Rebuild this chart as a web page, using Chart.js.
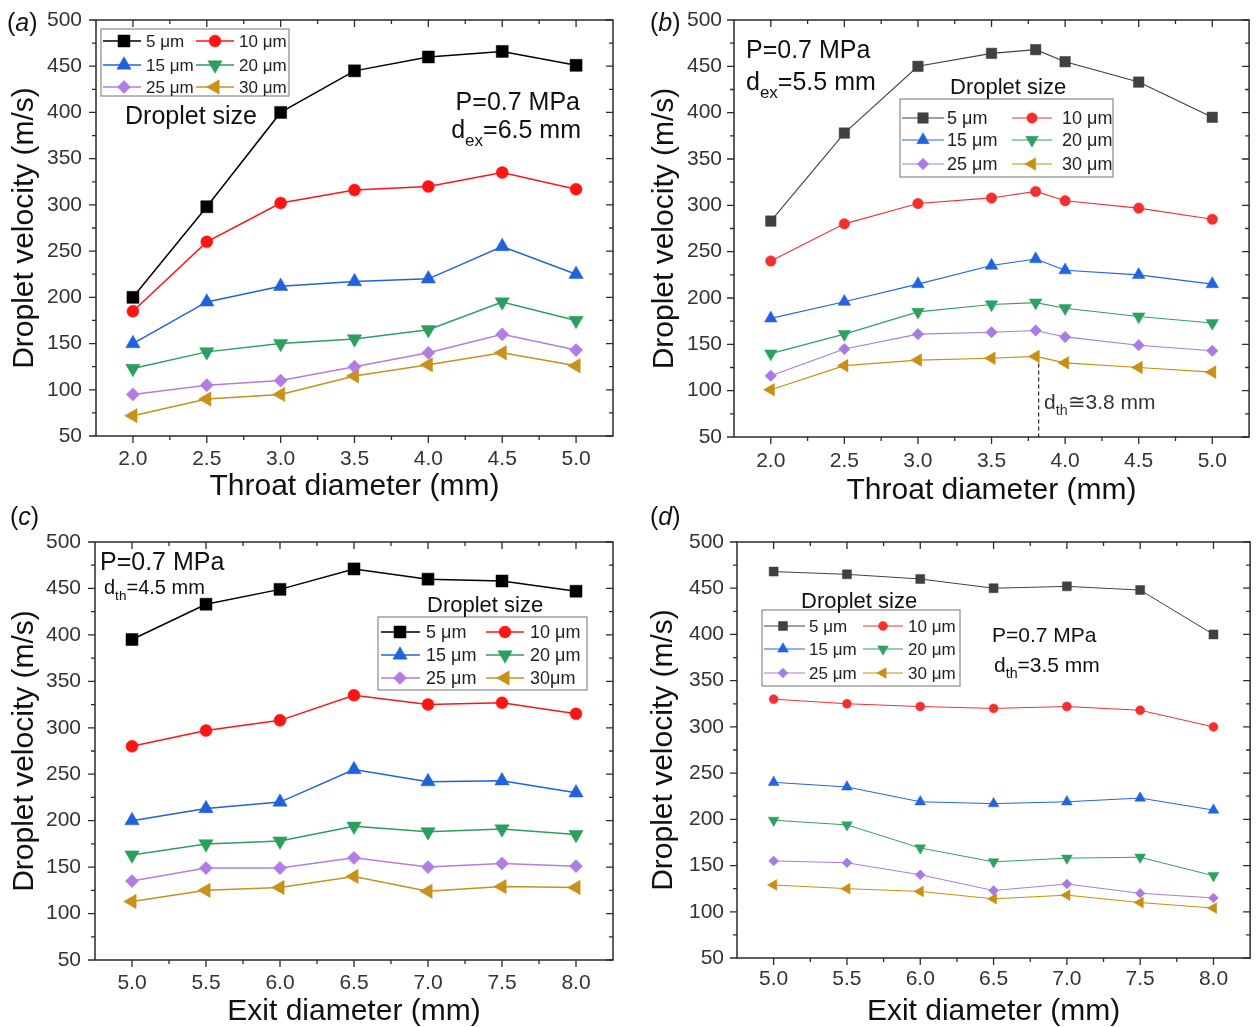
<!DOCTYPE html>
<html><head><meta charset="utf-8"><title>Droplet velocity</title>
<script src="https://cdn.jsdelivr.net/npm/chart.js@4.4.1/dist/chart.umd.min.js"></script>
<style>
html,body{margin:0;padding:0;background:#fff;overflow:hidden;width:1257px;height:1027px;}
canvas{position:absolute;}
</style></head><body>
<canvas id="ca" width="628" height="515" style="left:0;top:0;width:628px;height:515px"></canvas>
<canvas id="cb" width="629" height="515" style="left:628px;top:0;width:629px;height:515px"></canvas>
<canvas id="cc" width="628" height="530" style="left:0;top:505px;width:628px;height:530px"></canvas>
<canvas id="cd" width="629" height="530" style="left:628px;top:505px;width:629px;height:530px"></canvas>
<script>
const FONT = "'Liberation Sans', Arial, Helvetica, sans-serif";

// ---------- data ----------
const yTicks = [50, 100, 150, 200, 250, 300, 350, 400, 450, 500];
const throatTicks = [2.0, 2.5, 3.0, 3.5, 4.0, 4.5, 5.0];
const exitTicks = [5.0, 5.5, 6.0, 6.5, 7.0, 7.5, 8.0];
const sizeLabels = ['5 μm', '10 μm', '15 μm', '20 μm', '25 μm', '30 μm'];
const sizeLabelsC = ['5 μm', '10 μm', '15 μm', '20 μm', '25 μm', '30μm'];

// (a) throat diameter, d_ex = 6.5 mm
const xA = [2.0, 2.5, 3.0, 3.5, 4.0, 4.5, 5.0];
const a5 = [200, 298, 400, 445, 460, 466, 451];
const a10 = [185, 260, 302, 316, 320, 335, 317];
const a15 = [150, 195, 212, 217, 220, 255, 225];
const a20 = [123, 141, 150, 155, 165, 195, 175];
const a25 = [95, 105, 110, 125, 140, 160, 143];
const a30 = [72, 90, 95, 115, 127, 140, 126];

// (b) throat diameter, d_ex = 5.5 mm
const xB = [2.0, 2.5, 3.0, 3.5, 3.8, 4.0, 4.5, 5.0];
const b5 = [283, 378, 450, 464, 468, 455, 433, 395];
const b10 = [240, 280, 302, 308, 315, 305, 297, 285];
const b15 = [178, 196, 215, 235, 242, 230, 225, 215];
const b20 = [140, 161, 185, 193, 195, 189, 180, 173];
const b25 = [116, 145, 161, 163, 165, 158, 149, 143];
const b30 = [101, 127, 133, 135, 137, 130, 125, 120];
const dashX = 3.82;

// (c) exit diameter, d_th = 4.5 mm
const xC = [5.0, 5.5, 6.0, 6.5, 7.0, 7.5, 8.0];
const c5 = [395, 433, 449, 471, 460, 458, 447];
const c10 = [280, 297, 308, 335, 325, 327, 315];
const c15 = [200, 213, 220, 255, 242, 243, 230];
const c20 = [163, 175, 178, 194, 188, 191, 185];
const c25 = [135, 149, 149, 160, 150, 154, 151];
const c30 = [113, 125, 128, 140, 124, 129, 128];

// (d) exit diameter, d_th = 3.5 mm
const xD = [5.0, 5.5, 6.0, 6.5, 7.0, 7.5, 8.0];
const d5 = [468, 465, 460, 450, 452, 448, 400];
const d10 = [330, 325, 322, 320, 322, 318, 300];
const d15 = [240, 235, 219, 217, 219, 223, 210];
const d20 = [199, 194, 169, 154, 158, 159, 139];
const d25 = [155, 153, 140, 123, 130, 120, 115];
const d30 = [129, 125, 122, 114, 118, 110, 104];

// ---------- styles ----------
const COLORS = ['#000000', '#ff1414', '#1f62dc', '#2c9e5e', '#b27de2', '#c8901c'];
const COLORS_SOFT = ['#404040', '#f23030', '#2264e0', '#2fa062', '#a97ae4', '#c88f10'];
const STYLES = [['rect', 0], ['circle', 0], ['triangle', 0], ['triangle', 180], ['rectRot', 0], ['triangle', 270]];

function radiusFor(style, ms) {
  if (style === 'rect') return ms / 1.414;
  if (style === 'circle') return ms / 2;
  if (style === 'triangle') return ms * 1.2 / 1.732;
  return ms * 1.1 / 2;
}

function makeDatasets(xs, series, labels, colors, ms, lw) {
  return series.map((arr, i) => ({
    label: labels[i],
    data: xs.map((x, j) => ({ x: x, y: arr[j] })),
    borderColor: colors[i],
    backgroundColor: colors[i],
    pointBackgroundColor: colors[i],
    pointBorderColor: colors[i],
    pointStyle: STYLES[i][0],
    pointRotation: STYLES[i][1],
    pointRadius: radiusFor(STYLES[i][0], ms),
    pointHoverRadius: 0,
    pointBorderWidth: 0.5,
    borderWidth: lw,
    tension: 0,
    fill: false
  }));
}

function fontStr(size, italic) { return (italic ? 'italic ' : '') + size + 'px ' + FONT; }

function drawParts(ctx, parts, x, y, size, align, color) {
  ctx.save();
  ctx.fillStyle = color || '#111';
  ctx.textBaseline = 'alphabetic';
  ctx.textAlign = 'left';
  const ws = parts.map(p => { ctx.font = fontStr(p.sub ? size * 0.68 : size, p.it); return ctx.measureText(p.t).width; });
  let cx = align === 'right' ? x - ws.reduce((s, w) => s + w, 0) : x;
  parts.forEach((p, i) => {
    ctx.font = fontStr(p.sub ? size * 0.68 : size, p.it);
    ctx.fillText(p.t, cx, p.sub ? y + size * 0.3 : y);
    cx += ws[i];
  });
  ctx.restore();
}

function mids(ticks, lo, hi) {
  const out = [];
  const st = ticks[1] - ticks[0];
  for (let i = 0; i < ticks.length - 1; i++) out.push((ticks[i] + ticks[i + 1]) / 2);
  if (ticks[0] - st / 2 > lo + 1e-9) out.push(ticks[0] - st / 2);
  if (ticks[ticks.length - 1] + st / 2 < hi - 1e-9) out.push(ticks[ticks.length - 1] + st / 2);
  return out;
}

function decoPlugin(p) {
  return {
    id: 'deco',
    afterDraw(chart) {
      const ctx = chart.ctx, a = chart.chartArea, xs = chart.scales.x, ys = chart.scales.y;
      ctx.save();
      // dashed guide
      if (p.dash) {
        const px = xs.getPixelForValue(p.dash.x);
        ctx.strokeStyle = '#333'; ctx.lineWidth = 1.3; ctx.setLineDash([4, 3]);
        ctx.beginPath();
        ctx.moveTo(px, ys.getPixelForValue(p.dash.from) + 7);
        ctx.lineTo(px, a.bottom);
        ctx.stroke();
        ctx.setLineDash([]);
      }
      // frame
      ctx.strokeStyle = '#2b2b2b'; ctx.lineWidth = 1.5;
      ctx.strokeRect(a.left, a.top, a.right - a.left, a.bottom - a.top);
      ctx.lineWidth = 1.3;
      ctx.beginPath();
      const xt = (v, len) => {
        const px = xs.getPixelForValue(v);
        ctx.moveTo(px, a.bottom); ctx.lineTo(px, a.bottom + len);
        ctx.moveTo(px, a.top); ctx.lineTo(px, a.top + len);
      };
      const yt = (v, len) => {
        const py = ys.getPixelForValue(v);
        ctx.moveTo(a.left - len, py); ctx.lineTo(a.left, py);
        ctx.moveTo(a.right - len, py); ctx.lineTo(a.right, py);
      };
      p.xTicks.forEach(v => xt(v, 7));
      mids(p.xTicks, xs.min, xs.max).forEach(v => xt(v, 4));
      yTicks.forEach(v => yt(v, 7));
      mids(yTicks, ys.min, ys.max).forEach(v => yt(v, 4));
      ctx.stroke();

      // legend
      const L = p.legend;
      ctx.fillStyle = '#fff';
      ctx.fillRect(L.box[0], L.box[1], L.box[2] - L.box[0], L.box[3] - L.box[1]);
      ctx.strokeStyle = '#8a8a8a'; ctx.lineWidth = 1.2;
      ctx.strokeRect(L.box[0], L.box[1], L.box[2] - L.box[0], L.box[3] - L.box[1]);
      chart.data.datasets.forEach((ds, i) => {
        const row = L.rows[Math.floor(i / 2)], col = L.cols[i % 2];
        ctx.strokeStyle = ds.borderColor; ctx.lineWidth = ds.borderWidth;
        ctx.beginPath(); ctx.moveTo(col.l1, row); ctx.lineTo(col.l2, row); ctx.stroke();
        ctx.fillStyle = ds.pointBackgroundColor; ctx.strokeStyle = ds.pointBorderColor; ctx.lineWidth = ds.pointBorderWidth;
        Chart.helpers.drawPoint(ctx, { pointStyle: ds.pointStyle, rotation: ds.pointRotation, radius: ds.pointRadius, borderWidth: ds.pointBorderWidth }, col.m, row);
        ctx.fillStyle = '#222'; ctx.font = fontStr(L.font); ctx.textBaseline = 'middle'; ctx.textAlign = 'left';
        ctx.fillText(ds.label, col.t, row + 1);
      });
      // texts
      p.texts.forEach(t => drawParts(ctx, t.parts, t.x, t.y, t.size, t.align, t.color));
      ctx.restore();
    }
  };
}

function makeChart(id, p) {
  return new Chart(document.getElementById(id), {
    type: 'line',
    data: { datasets: p.datasets },
    options: {
      responsive: false, animation: false, devicePixelRatio: 1, events: [],
      layout: { padding: { left: 0, top: p.area.t, right: p.w - p.area.r, bottom: 0 } },
      plugins: { legend: { display: false }, tooltip: { enabled: false } },
      scales: {
        x: {
          type: 'linear', min: p.xMin, max: p.xMax,
          afterBuildTicks: s => { s.ticks = p.xTicks.map(v => ({ value: v })); },
          afterFit: s => { s.height = p.h - p.area.b; },
          grid: { display: true, drawOnChartArea: false, drawTicks: true, tickLength: p.xTickPad, tickColor: 'rgba(0,0,0,0)' },
          border: { display: false },
          ticks: { autoSkip: false, maxRotation: 0, minRotation: 0, padding: 0, font: { family: FONT, size: 21 }, color: '#333', callback: v => Number(v).toFixed(1) },
          title: { display: true, text: p.xTitle, font: { family: FONT, size: 30, lineHeight: 1.2 }, color: '#111', padding: { top: 0, bottom: p.xTitlePad } }
        },
        y: {
          type: 'linear', min: 50, max: 500,
          afterBuildTicks: s => { s.ticks = yTicks.map(v => ({ value: v })); },
          afterFit: s => { s.width = p.area.l; },
          grid: { display: true, drawOnChartArea: false, drawTicks: true, tickLength: p.yTickPad, tickColor: 'rgba(0,0,0,0)' },
          border: { display: false },
          ticks: { autoSkip: false, padding: 0, font: { family: FONT, size: 21 }, color: '#333', callback: v => String(v) },
          title: { display: true, text: 'Droplet velocity (m/s)', font: { family: FONT, size: 30, lineHeight: 1.2 }, color: '#111', padding: { top: p.yTitlePad, bottom: 0 } }
        }
      }
    },
    plugins: [decoPlugin(p)]
  });
}

const lbl = (ch) => [{ t: '(' }, { t: ch, it: true }, { t: ')' }];

makeChart('ca', {
  w: 628, h: 515, area: { l: 96, t: 20, r: 613, b: 436 },
  xMin: 1.75, xMax: 5.25, xTicks: throatTicks, xTitle: 'Throat diameter (mm)',
  xTickPad: 11, xTitlePad: 10.4, yTickPad: 14, yTitlePad: 6.4,
  datasets: makeDatasets(xA, [a5, a10, a15, a20, a25, a30], sizeLabels, COLORS, 12, 1.5),
  legend: { box: [101, 29, 289, 96], rows: [41, 65, 87], cols: [{ l1: 103, l2: 141, m: 124, t: 146 }, { l1: 196, l2: 234, m: 215, t: 239 }], font: 17 },
  texts: [
    { parts: lbl('a'), x: 7, y: 31, size: 25 },
    { parts: [{ t: 'Droplet size' }], x: 125, y: 124, size: 25 },
    { parts: [{ t: 'P=0.7 MPa' }], x: 580, y: 110, size: 25, align: 'right' },
    { parts: [{ t: 'd' }, { t: 'ex', sub: true }, { t: '=6.5 mm' }], x: 581, y: 138, size: 25, align: 'right' }
  ]
});

makeChart('cb', {
  w: 629, h: 515, area: { l: 106, t: 20, r: 626, b: 437 },
  xMin: 1.75, xMax: 5.25, xTicks: throatTicks, xTitle: 'Throat diameter (mm)',
  xTickPad: 11.3, xTitlePad: 6, yTickPad: 12, yTitlePad: 18.3,
  datasets: makeDatasets(xB, [b5, b10, b15, b20, b25, b30], sizeLabels, COLORS_SOFT, 10.5, 1.1),
  dash: { x: dashX, from: b30[xB.indexOf(3.8)] },
  legend: { box: [272, 99, 485, 177], rows: [118, 140, 164], cols: [{ l1: 274, l2: 316, m: 295, t: 319 }, { l1: 384, l2: 424, m: 404, t: 434 }], font: 18 },
  texts: [
    { parts: lbl('b'), x: 22, y: 31, size: 25 },
    { parts: [{ t: 'P=0.7 MPa' }], x: 118, y: 58, size: 25 },
    { parts: [{ t: 'd' }, { t: 'ex', sub: true }, { t: '=5.5 mm' }], x: 118, y: 90, size: 25 },
    { parts: [{ t: 'Droplet size' }], x: 322, y: 94, size: 22 },
    { parts: [{ t: 'd' }, { t: 'th', sub: true }, { t: '≅3.8 mm' }], x: 416, y: 409, size: 21, color: '#333' }
  ]
});

makeChart('cc', {
  w: 628, h: 530, area: { l: 95, t: 37, r: 613, b: 455 },
  xMin: 4.75, xMax: 8.25, xTicks: exitTicks, xTitle: 'Exit diameter (mm)',
  xTickPad: 11, xTitlePad: 5.4, yTickPad: 14, yTitlePad: 6.4,
  datasets: makeDatasets(xC, [c5, c10, c15, c20, c25, c30], sizeLabelsC, COLORS, 12, 1.5),
  legend: { box: [378, 112, 587, 185], rows: [127, 150, 173], cols: [{ l1: 381, l2: 420, m: 400, t: 426 }, { l1: 486, l2: 524, m: 505, t: 530 }], font: 18 },
  texts: [
    { parts: lbl('c'), x: 10, y: 20, size: 25 },
    { parts: [{ t: 'P=0.7 MPa' }], x: 100, y: 65, size: 25 },
    { parts: [{ t: 'd' }, { t: 'th', sub: true }, { t: '=4.5 mm' }], x: 104, y: 89, size: 20 },
    { parts: [{ t: 'Droplet size' }], x: 427, y: 107, size: 22 }
  ]
});

makeChart('cd', {
  w: 629, h: 530, area: { l: 109, t: 37, r: 625, b: 453 },
  xMin: 4.75, xMax: 8.25, xTicks: exitTicks, xTitle: 'Exit diameter (mm)',
  xTickPad: 8.5, xTitlePad: 5.4, yTickPad: 13, yTitlePad: 18,
  datasets: makeDatasets(xD, [d5, d10, d15, d20, d25, d30], sizeLabels, COLORS_SOFT, 9, 1),
  legend: { box: [134, 105, 332, 181], rows: [121, 144, 168], cols: [{ l1: 136, l2: 177, m: 155, t: 181 }, { l1: 235, l2: 275, m: 255, t: 280 }], font: 17 },
  texts: [
    { parts: lbl('d'), x: 22, y: 20, size: 25 },
    { parts: [{ t: 'P=0.7 MPa' }], x: 364, y: 137, size: 21 },
    { parts: [{ t: 'd' }, { t: 'th', sub: true }, { t: '=3.5 mm' }], x: 366, y: 167, size: 21 },
    { parts: [{ t: 'Droplet size' }], x: 173, y: 103, size: 22 }
  ]
});
</script></body></html>
